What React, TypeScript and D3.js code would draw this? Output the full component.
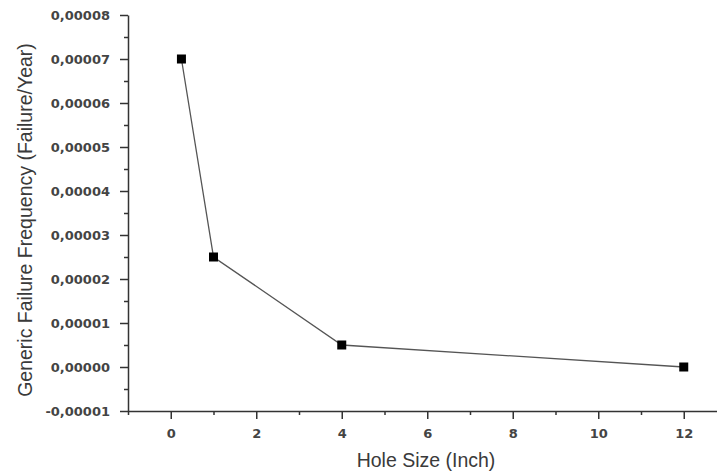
import React, { useRef, useEffect } from 'react';
import * as d3 from 'd3';

// hole size (inch) vs generic failure frequency (failure/year)
const holeSizes = [0.25, 1, 4, 12];
const frequencies = [0.00007, 0.000025, 0.000005, 0.0];

const xMajorTicks = [0, 2, 4, 6, 8, 10, 12];
const xMinorTicks = [-1, 1, 3, 5, 7, 9, 11];
const yMajorTicks = [-0.00001, 0, 0.00001, 0.00002, 0.00003, 0.00004, 0.00005, 0.00006, 0.00007, 0.00008];
const yMinorTicks = [-0.000005, 0.000005, 0.000015, 0.000025, 0.000035, 0.000045, 0.000055, 0.000065, 0.000075];

const xLabel = 'Hole Size (Inch)';
const yLabel = 'Generic Failure Frequency (Failure/Year)';

const W = 717;
const H = 472;

const App = () => {
    const svgRef = useRef<SVGSVGElement>(null);

    useEffect(() => {
        const svg = d3.select(svgRef.current);
        svg.selectAll('*').remove();

        const axisColor = '#333';
        const tickFont = 'DejaVu Sans, Verdana, sans-serif';
        const labelFont = 'Liberation Sans, Arial, sans-serif';

        const x = d3.scaleLinear().domain([-1, 15]).range([128, 812]);
        const y = d3.scaleLinear().domain([-0.00001, 0.00008]).range([411, 15]);

        const fmt = (d: number) => (Math.abs(d) < 1e-12 ? 0 : d).toFixed(5).replace('.', ',');

        // x axis
        const xAxisG = svg.append('g').attr('transform', `translate(0,${y(-0.00001)})`);
        xAxisG.call(d3.axisBottom(x).tickValues(xMinorTicks).tickSize(4).tickSizeOuter(0).tickFormat(() => ''));
        xAxisG.call(g => g.select('.domain').remove());
        const xMajorG = svg.append('g').attr('transform', `translate(0,${y(-0.00001)})`);
        xMajorG.call(d3.axisBottom(x).tickValues(xMajorTicks).tickSize(8).tickSizeOuter(0).tickPadding(10).tickFormat(d => String(d)));

        // y axis
        const yAxisG = svg.append('g').attr('transform', `translate(${x(-1)},0)`);
        yAxisG.call(d3.axisLeft(y).tickValues(yMinorTicks).tickSize(4).tickSizeOuter(0).tickFormat(() => ''));
        yAxisG.call(g => g.select('.domain').remove());
        const yMajorG = svg.append('g').attr('transform', `translate(${x(-1)},0)`);
        yMajorG.call(d3.axisLeft(y).tickValues(yMajorTicks).tickSize(8).tickSizeOuter(0).tickPadding(10).tickFormat(d => fmt(+d)));

        [xAxisG, xMajorG, yAxisG, yMajorG].forEach(g => {
            g.selectAll('path, line').attr('stroke', axisColor).attr('stroke-width', 1.5);
            g.selectAll('text')
                .attr('font-family', tickFont)
                .attr('font-size', 13)
                .attr('font-weight', 'bold')
                .attr('fill', '#444');
        });

        // data line
        const pts = holeSizes.map((h, i) => ({ h, f: frequencies[i] }));
        const line = d3.line<{ h: number; f: number }>()
            .x(d => x(d.h))
            .y(d => y(d.f));

        svg.append('path')
            .datum(pts)
            .attr('fill', 'none')
            .attr('stroke', '#555')
            .attr('stroke-width', 1.3)
            .attr('d', line);

        svg.selectAll('.marker')
            .data(pts)
            .enter()
            .append('rect')
            .attr('class', 'marker')
            .attr('x', d => x(d.h) - 4.5)
            .attr('y', d => y(d.f) - 4.5)
            .attr('width', 9)
            .attr('height', 9)
            .attr('fill', '#000');

        // axis titles
        svg.append('text')
            .attr('x', 426)
            .attr('y', 467)
            .attr('text-anchor', 'middle')
            .attr('font-family', labelFont)
            .attr('font-size', 19.5)
            .attr('fill', '#3a3a3a')
            .text(xLabel);

        svg.append('text')
            .attr('transform', `translate(32,220) rotate(-90)`)
            .attr('text-anchor', 'middle')
            .attr('font-family', labelFont)
            .attr('font-size', 19.5)
            .attr('fill', '#3a3a3a')
            .text(yLabel);
    }, []);

    return (
        <svg
            ref={svgRef}
            width={W}
            height={H}
            style={{ position: 'absolute', left: 0, top: 0, background: '#fff' }}
        />
    );
};

export default App;
